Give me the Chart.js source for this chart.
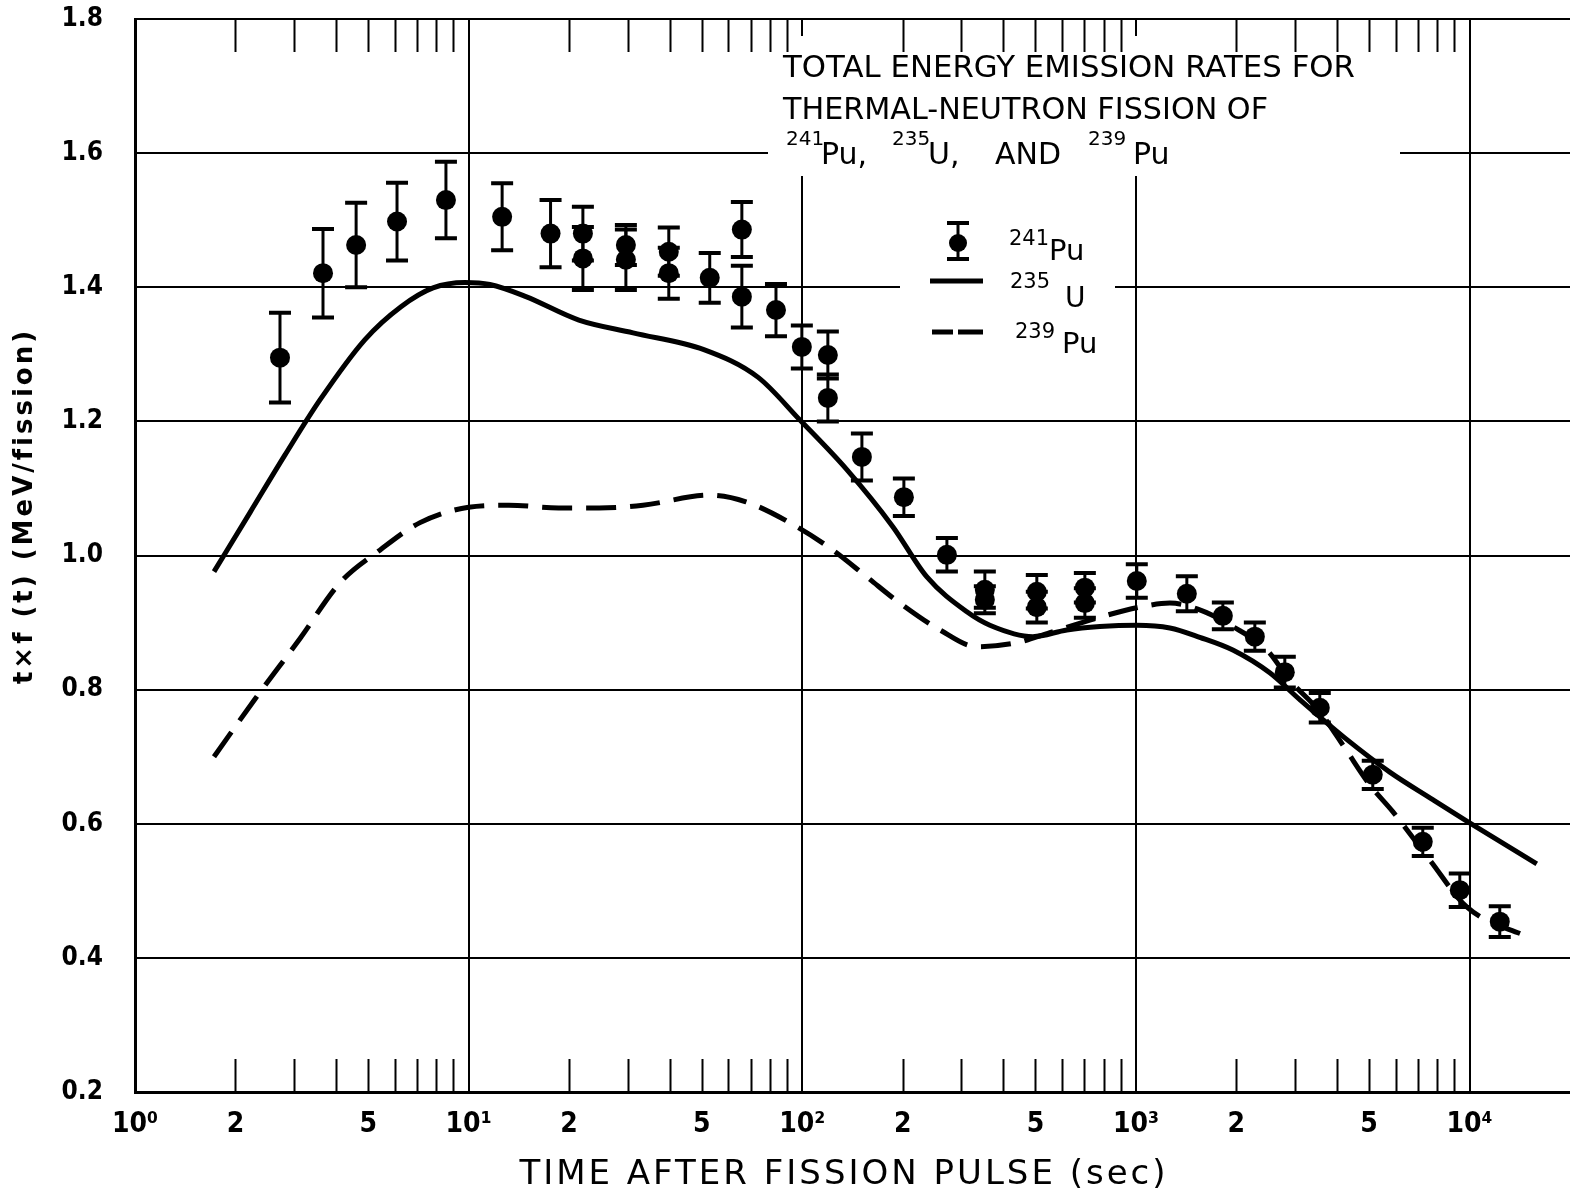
<!DOCTYPE html>
<html>
<head>
<meta charset="utf-8">
<script src="https://cdn.jsdelivr.net/npm/chart.js@4.4.1/dist/chart.umd.min.js"></script>
<style>
  html, body { margin: 0; padding: 0; background: #fff; }
  canvas { display: block; }
</style>
</head>
<body>
<canvas id="chart" width="1570" height="1192"></canvas>
<script>
// 241Pu measurements: time (sec), t*f(t) (MeV/fission), half height of the error bar
const pu241Times = [2.72, 3.66, 4.60, 6.10, 8.55, 12.6, 17.6, 22.0, 22.0, 29.6, 29.6, 39.8, 39.8, 52.8,
  65.9, 65.9, 83.4, 99.7, 119.3, 119.3, 150.9, 201.6, 271.3, 352.5, 352.5, 504.6, 504.6, 703, 703,
  1006, 1421, 1822, 2272, 2794, 3557, 5127, 7240, 9347, 12318];
const pu241Values = [1.295, 1.421, 1.463, 1.498, 1.530, 1.505, 1.480, 1.480, 1.443, 1.463, 1.441, 1.453, 1.421, 1.414,
  1.486, 1.386, 1.366, 1.311, 1.299, 1.235, 1.147, 1.087, 1.001, 0.949, 0.934, 0.946, 0.923, 0.952, 0.929,
  0.962, 0.943, 0.910, 0.879, 0.826, 0.773, 0.673, 0.573, 0.501, 0.454];
const pu241Errors = [0.067, 0.066, 0.063, 0.058, 0.057, 0.050, 0.050, 0.040, 0.047, 0.030, 0.045, 0.036, 0.038, 0.037,
  0.041, 0.046, 0.039, 0.032, 0.035, 0.035, 0.035, 0.028, 0.025, 0.027, 0.020, 0.025, 0.023, 0.022, 0.022,
  0.025, 0.026, 0.020, 0.021, 0.023, 0.022, 0.021, 0.021, 0.025, 0.023];

// 235U curve
const u235Times = [1.725, 2.211, 2.816, 3.584, 4.89, 6.27, 7.82, 9.75, 11.58, 14.85, 21.4, 31.1, 50.7,
  73.6, 98.4, 136, 186.8, 236.3, 311.4, 365, 491, 621, 779.6, 1006, 1264, 1554, 1952, 2519, 3099, 4227,
  5766, 7757, 9808, 15900];
const u235Values = [0.976, 1.064, 1.150, 1.232, 1.322, 1.371, 1.399, 1.407, 1.404, 1.386, 1.351, 1.332, 1.307,
  1.266, 1.202, 1.128, 1.043, 0.968, 0.916, 0.896, 0.879, 0.889, 0.894, 0.896, 0.892, 0.878, 0.859, 0.825, 0.785, 0.728,
  0.677, 0.636, 0.604, 0.540];

// 239Pu curve
const pu239Times = [1.725, 2.29, 3.12, 4.11, 5.42, 7.15, 10.0, 13.2, 18.6, 24.6, 33.3, 52.8, 67.8, 96.3, 123.5,
  156.2, 196.1, 258.4, 333.6, 439.7, 552, 779.6, 1027, 1264, 1554, 1952, 2469, 2892, 3557, 4227, 5022, 5887,
  7600, 9808, 15150];
const pu239Values = [0.700, 0.786, 0.876, 0.959, 1.008, 1.049, 1.072, 1.075, 1.071, 1.071, 1.075, 1.090, 1.080, 1.043, 1.008,
  0.968, 0.929, 0.889, 0.864, 0.870, 0.885, 0.908, 0.923, 0.929, 0.919, 0.894, 0.859, 0.814, 0.767, 0.713, 0.658, 0.618,
  0.546, 0.476, 0.430];

// axis ticks
const yTickValues = [0.2, 0.4, 0.6, 0.8, 1.0, 1.2, 1.4, 1.6, 1.8];
const yTickLabels = ['0.2', '0.4', '0.6', '0.8', '1.0', '1.2', '1.4', '1.6', '1.8'];
const xTickValues = [1, 2, 3, 4, 5, 6, 7, 8, 9, 10, 20, 30, 40, 50, 60, 70, 80, 90,
  100, 200, 300, 400, 500, 600, 700, 800, 900, 1000, 2000, 3000, 4000, 5000, 6000, 7000, 8000, 9000, 10000];
const xLabelValues = [1, 2, 5, 10, 20, 50, 100, 200, 500, 1000, 2000, 5000, 10000];
const xLabelTexts = ['10\u2070', '2', '5', '10\u00b9', '2', '5', '10\u00b2', '2', '5', '10\u00b3', '2', '5', '10\u2074'];

const TICK_FONT = '"DejaVu Sans Condensed", "DejaVu Sans", sans-serif';
const FONT = '"DejaVu Sans", sans-serif';

const isDecade = v => Math.abs(Math.log10(v) - Math.round(Math.log10(v))) < 1e-9;

function text(ctx, str, x, y, size, weight, maxWidth, spacing) {
    ctx.font = `${weight} ${size}px ${FONT}`;
    ctx.letterSpacing = spacing || '0px';
    if (maxWidth) ctx.fillText(str, x, y, maxWidth);
    else ctx.fillText(str, x, y);
}

// white boxes behind the title and legend, then the short minor ticks
const masksAndTicks = {
    id: 'masksAndTicks',
    beforeDatasetsDraw(chart) {
        const ctx = chart.ctx;
        const { top, bottom } = chart.chartArea;
        const xs = chart.scales.x;
        ctx.save();
        ctx.fillStyle = '#fff';
        ctx.fillRect(768, 36, 632, 140);
        ctx.fillRect(900, 205, 215, 155);
        ctx.strokeStyle = '#000';
        ctx.lineWidth = 2;
        ctx.beginPath();
        xTickValues.forEach(v => {
            if (isDecade(v)) return;
            const px = Math.round(xs.getPixelForValue(v)) + 0.5;
            ctx.moveTo(px, top);
            ctx.lineTo(px, top + 33);
            ctx.moveTo(px, bottom);
            ctx.lineTo(px, bottom - 33);
        });
        ctx.stroke();
        ctx.restore();
    }
};

const errorBars = {
    id: 'errorBars',
    afterDatasetsDraw(chart) {
        const ctx = chart.ctx;
        const xs = chart.scales.x, ys = chart.scales.y;
        ctx.save();
        ctx.strokeStyle = '#000';
        pu241Times.forEach((t, i) => {
            const px = xs.getPixelForValue(t);
            const hi = ys.getPixelForValue(pu241Values[i] + pu241Errors[i]);
            const lo = ys.getPixelForValue(pu241Values[i] - pu241Errors[i]);
            ctx.lineWidth = 3;
            ctx.beginPath();
            ctx.moveTo(px, hi);
            ctx.lineTo(px, lo);
            ctx.stroke();
            ctx.lineWidth = 4;
            ctx.beginPath();
            ctx.moveTo(px - 11, hi); ctx.lineTo(px + 11, hi);
            ctx.moveTo(px - 11, lo); ctx.lineTo(px + 11, lo);
            ctx.stroke();
        });
        ctx.restore();
    }
};

// title block, legend and axis titles
const annotations = {
    id: 'annotations',
    afterDraw(chart) {
        const ctx = chart.ctx;
        ctx.save();
        ctx.fillStyle = '#000';
        ctx.strokeStyle = '#000';
        ctx.textAlign = 'left';
        ctx.textBaseline = 'alphabetic';

        text(ctx, 'TOTAL ENERGY EMISSION RATES FOR', 783, 77, 31, 'normal', 572);
        text(ctx, 'THERMAL-NEUTRON FISSION OF', 783, 119, 31, 'normal', 485);
        text(ctx, '241', 786, 145, 20, 'normal');
        text(ctx, 'Pu,', 821, 164, 30, 'normal');
        text(ctx, '235', 892, 145, 20, 'normal');
        text(ctx, 'U,', 928, 164, 30, 'normal');
        text(ctx, 'AND', 995, 164, 30, 'normal');
        text(ctx, '239', 1088, 145, 20, 'normal');
        text(ctx, 'Pu', 1133, 164, 30, 'normal');

        // legend: 241Pu marker
        ctx.lineWidth = 3;
        ctx.beginPath();
        ctx.moveTo(958, 223); ctx.lineTo(958, 259);
        ctx.stroke();
        ctx.lineWidth = 4;
        ctx.beginPath();
        ctx.moveTo(947, 223); ctx.lineTo(969, 223);
        ctx.moveTo(947, 259); ctx.lineTo(969, 259);
        ctx.stroke();
        ctx.beginPath();
        ctx.arc(958, 243, 9, 0, Math.PI * 2);
        ctx.fill();
        text(ctx, '241', 1009, 245, 21, 'normal');
        text(ctx, 'Pu', 1049, 260, 29, 'normal');

        // 235U solid
        ctx.lineWidth = 5;
        ctx.beginPath();
        ctx.moveTo(930, 281); ctx.lineTo(983, 281);
        ctx.stroke();
        text(ctx, '235', 1010, 288, 21, 'normal');
        text(ctx, 'U', 1065, 307, 28, 'normal');

        // 239Pu dashed
        ctx.beginPath();
        ctx.moveTo(932, 332); ctx.lineTo(953, 332);
        ctx.moveTo(958, 332); ctx.lineTo(983, 332);
        ctx.stroke();
        text(ctx, '239', 1015, 338, 21, 'normal');
        text(ctx, 'Pu', 1062, 353, 29, 'normal');

        // axis titles
        ctx.textAlign = 'center';
        text(ctx, 'TIME AFTER FISSION PULSE (sec)', 844, 1184, 34, 'normal', 650, '3px');
        ctx.translate(25, 506);
        ctx.rotate(-Math.PI / 2);
        ctx.textBaseline = 'middle';
        text(ctx, 't\u00d7f (t) (MeV/fission)', 0, 0, 26, 'bold', 370, '3px');
        ctx.restore();
    }
};

const ctx = document.getElementById('chart');
new Chart(ctx, {
    type: 'scatter',
    data: {
        datasets: [{
            label: '241Pu',
            data: pu241Times.map((t, i) => ({ x: t, y: pu241Values[i] })),
            showLine: false,
            pointRadius: 10,
            pointHoverRadius: 10,
            pointBorderWidth: 0,
            backgroundColor: '#000',
            borderColor: '#000',
            order: 0
        }, {
            label: '235U',
            data: u235Times.map((t, i) => ({ x: t, y: u235Values[i] })),
            showLine: true,
            pointRadius: 0,
            borderColor: '#000',
            borderWidth: 5,
            cubicInterpolationMode: 'monotone',
            order: 1
        }, {
            label: '239Pu',
            data: pu239Times.map((t, i) => ({ x: t, y: pu239Values[i] })),
            showLine: true,
            pointRadius: 0,
            borderColor: '#000',
            borderWidth: 5,
            borderDash: [30, 14],
            cubicInterpolationMode: 'monotone',
            order: 2
        }]
    },
    options: {
        responsive: false,
        animation: false,
        devicePixelRatio: 1,
        layout: { autoPadding: false, padding: { top: 19, left: 0, right: 0, bottom: 0 } },
        plugins: {
            legend: { display: false },
            tooltip: { enabled: false }
        },
        scales: {
            x: {
                type: 'logarithmic',
                min: 1,
                max: 20000,
                afterBuildTicks: scale => { scale.ticks = xTickValues.map(v => ({ value: v })); },
                afterFit: scale => {
                    scale.height = 100;
                    scale.paddingLeft = 0;
                    scale.paddingRight = 0;
                },
                ticks: {
                    autoSkip: false,
                    maxRotation: 0,
                    padding: 16,
                    color: '#000',
                    font: { family: TICK_FONT, size: 28, weight: 'bold' },
                    callback: value => {
                        const i = xLabelValues.indexOf(value);
                        return i < 0 ? '' : xLabelTexts[i];
                    }
                },
                grid: {
                    drawTicks: false,
                    lineWidth: 2,
                    color: c => (c.tick && isDecade(c.tick.value)) ? '#000' : 'rgba(0,0,0,0)'
                },
                border: { display: true, color: '#000', width: 3 }
            },
            y: {
                min: 0.2,
                max: 1.8,
                afterBuildTicks: scale => { scale.ticks = yTickValues.map(v => ({ value: v })); },
                afterFit: scale => {
                    scale.width = 135;
                    scale.paddingTop = 0;
                    scale.paddingBottom = 0;
                },
                ticks: {
                    padding: 32,
                    color: '#000',
                    font: { family: TICK_FONT, size: 26, weight: 'bold' },
                    callback: (value, index) => yTickLabels[index]
                },
                grid: { drawTicks: false, lineWidth: 2, color: '#000' },
                border: { display: true, color: '#000', width: 3 }
            }
        }
    },
    plugins: [masksAndTicks, errorBars, annotations]
});
</script>
</body>
</html>
